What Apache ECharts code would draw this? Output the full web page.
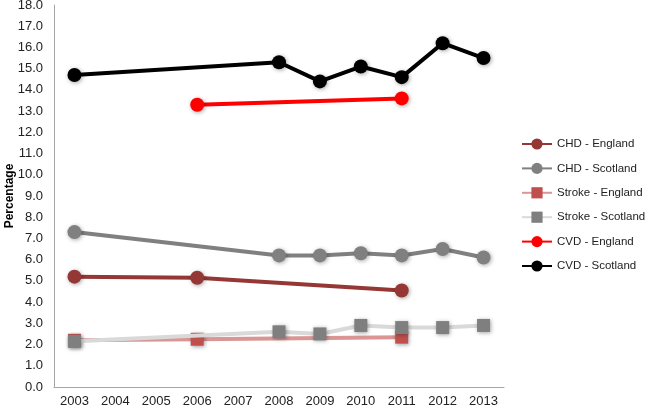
<!DOCTYPE html>
<html lang="en">
<head>
    <meta charset="UTF-8">
    <title>CHD / Stroke / CVD - England and Scotland</title>
    <script src="https://cdn.jsdelivr.net/npm/echarts@6/dist/echarts.min.js"></script>
    <style>
        html, body { margin: 0; padding: 0; background: #fff; }
        #main { width: 650px; height: 409px; }
    </style>
</head>
<body>
<div id="main"></div>
<script>
    // years on the x axis
    var years = ['2003', '2004', '2005', '2006', '2007', '2008', '2009', '2010', '2011', '2012', '2013'];

    // values (null = no survey that year)
    var chdEngland     = [5.2, null, null, 5.15, null, null, null, null, 4.55, null, null];
    var chdScotland    = [7.3, null, null, null, null, 6.2, 6.2, 6.3, 6.2, 6.5, 6.1];
    var strokeEngland  = [2.2, null, null, 2.25, null, null, null, null, 2.35, null, null];
    var strokeScotland = [2.15, null, null, null, null, 2.6, 2.5, 2.9, 2.8, 2.8, 2.9];
    var cvdEngland     = [null, null, null, 13.3, null, null, null, null, 13.6, null, null];
    var cvdScotland    = [14.7, null, null, null, null, 15.3, 14.4, 15.1, 14.6, 16.2, 15.5];

    var font = 'Liberation Sans';

    function line(name, data, lineColor, markColor, symbol, size) {
        return {
            name: name,
            type: 'line',
            data: data,
            connectNulls: true,
            symbol: symbol,
            symbolSize: size,
            lineStyle: { color: lineColor, width: 4 },
            itemStyle: {
                color: markColor,
                shadowBlur: 4,
                shadowColor: 'rgba(0,0,0,0.35)',
                shadowOffsetX: 1,
                shadowOffsetY: 1
            },
            emphasis: { disabled: true },
            z: name === 'Stroke - Scotland' ? 3 : 2
        };
    }

    var myChart = echarts.init(document.getElementById('main'));
    var option = {
        animation: false,
        grid: { left: 54, right: 146, top: 5, bottom: 22, outerBoundsMode: 'none', containLabel: false },
        legend: {
            orient: 'vertical',
            left: 516,
            top: 133,
            itemGap: 12.4,
            itemWidth: 30,
            itemHeight: 14,
            textStyle: { fontFamily: font, fontSize: 11.5, color: '#222' },
            data: ['CHD - England', 'CHD - Scotland', 'Stroke - England', 'Stroke - Scotland', 'CVD - England', 'CVD - Scotland']
        },
        xAxis: {
            type: 'category',
            data: years,
            boundaryGap: true,
            axisLine: { lineStyle: { color: '#a6a6a6' } },
            axisTick: { show: false },
            axisLabel: { fontFamily: font, fontSize: 13, color: '#222', margin: 8 }
        },
        yAxis: {
            type: 'value',
            min: 0,
            max: 18,
            interval: 1,
            name: 'Percentage',
            nameLocation: 'middle',
            nameGap: 38,
            nameMoveOverlap: false,
            nameTextStyle: { fontFamily: font, fontSize: 12, fontWeight: 'bold', color: '#000' },
            axisLine: { show: true, lineStyle: { color: '#a6a6a6' } },
            axisTick: { show: false },
            splitLine: { show: false },
            axisLabel: {
                fontFamily: font, fontSize: 13, color: '#222', margin: 11,
                formatter: function (v) { return v.toFixed(1); }
            }
        },
        series: [
            line('CHD - England', chdEngland, '#953735', '#953735', 'circle', 14),
            line('CHD - Scotland', chdScotland, '#808080', '#808080', 'circle', 14),
            line('Stroke - England', strokeEngland, '#d99694', '#c0504d', 'rect', 13),
            line('Stroke - Scotland', strokeScotland, '#d9d9d9', '#7f7f7f', 'rect', 13),
            line('CVD - England', cvdEngland, '#ff0000', '#ff0000', 'circle', 14),
            line('CVD - Scotland', cvdScotland, '#000000', '#000000', 'circle', 14)
        ]
    };
    myChart.setOption(option);
</script>
</body>
</html>
